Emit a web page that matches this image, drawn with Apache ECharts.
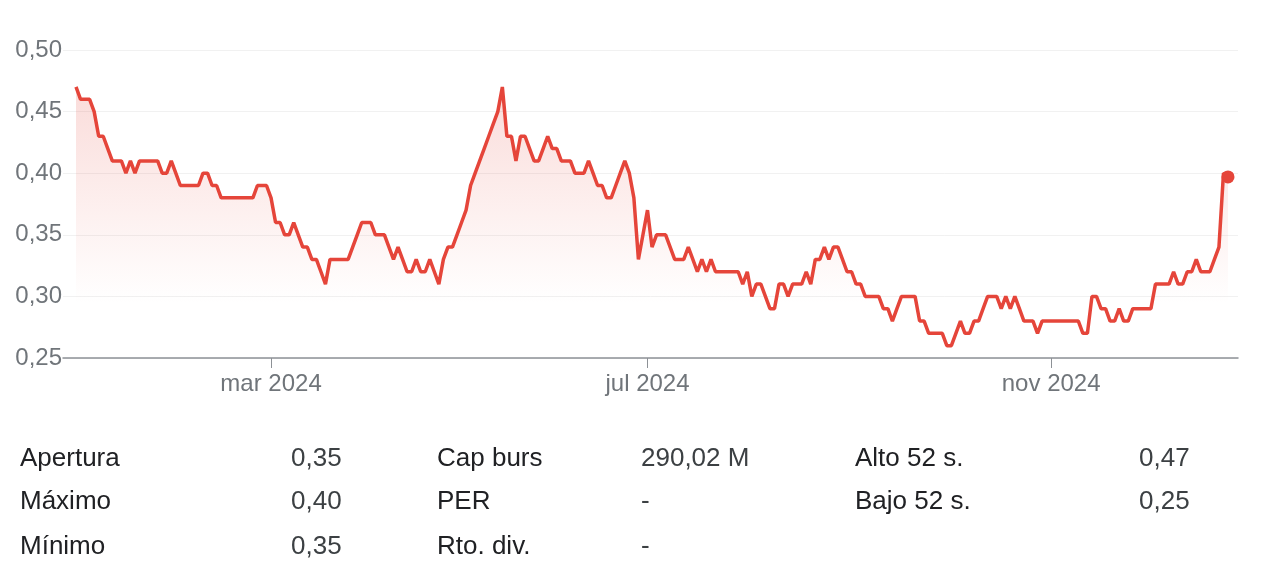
<!DOCTYPE html>
<html><head><meta charset="utf-8">
<script src="https://cdn.jsdelivr.net/npm/echarts@6/dist/echarts.min.js"></script>
<style>html,body{margin:0;padding:0;background:#fff}#c{width:1270px;height:583px}</style>
</head><body><div id="c"></div>
<script>
// Daily closing prices (EUR), one per trading day from 2 Jan 2024
const closePrices = [
  0.47,0.46,0.46,0.46,0.45,0.43,0.43,0.42,0.41,0.41,
  0.41,0.40,0.41,0.40,0.41,0.41,0.41,0.41,0.41,0.40,
  0.40,0.41,0.40,0.39,0.39,0.39,0.39,0.39,0.40,0.40,
  0.39,0.39,0.38,0.38,0.38,0.38,0.38,0.38,0.38,0.38,
  0.39,0.39,0.39,0.38,0.36,0.36,0.35,0.35,0.36,0.35,
  0.34,0.34,0.33,0.33,0.32,0.31,0.33,0.33,0.33,0.33,
  0.33,0.34,0.35,0.36,0.36,0.36,0.35,0.35,0.35,0.34,
  0.33,0.34,0.33,0.32,0.32,0.33,0.32,0.32,0.33,0.32,
  0.31,0.33,0.34,0.34,0.35,0.36,0.37,0.39,0.40,0.41,
  0.42,0.43,0.44,0.45,0.47,0.43,0.43,0.41,0.43,0.43,
  0.42,0.41,0.41,0.42,0.43,0.42,0.42,0.41,0.41,0.41,
  0.40,0.40,0.40,0.41,0.40,0.39,0.39,0.38,0.38,0.39,
  0.40,0.41,0.40,0.38,0.33,0.35,0.37,0.34,0.35,0.35,
  0.35,0.34,0.33,0.33,0.33,0.34,0.33,0.32,0.33,0.32,
  0.33,0.32,0.32,0.32,0.32,0.32,0.32,0.31,0.32,0.30,
  0.31,0.31,0.30,0.29,0.29,0.31,0.31,0.30,0.31,0.31,
  0.31,0.32,0.31,0.33,0.33,0.34,0.33,0.34,0.34,0.33,
  0.32,0.32,0.31,0.31,0.30,0.30,0.30,0.30,0.29,0.29,
  0.28,0.29,0.30,0.30,0.30,0.30,0.28,0.28,0.27,0.27,
  0.27,0.27,0.26,0.26,0.27,0.28,0.27,0.27,0.28,0.28,
  0.29,0.30,0.30,0.30,0.29,0.30,0.29,0.30,0.29,0.28,
  0.28,0.28,0.27,0.28,0.28,0.28,0.28,0.28,0.28,0.28,
  0.28,0.28,0.27,0.27,0.30,0.30,0.29,0.29,0.28,0.28,
  0.29,0.28,0.28,0.29,0.29,0.29,0.29,0.29,0.31,0.31,
  0.31,0.31,0.32,0.31,0.31,0.32,0.32,0.33,0.32,0.32,
  0.32,0.33,0.34,0.40,0.397
];
const firstTradingDay = [2024, 0, 2];
const marketHolidays = ['2024-01-01','2024-03-29','2024-04-01','2024-05-01','2024-12-25','2024-12-26'];
const monthNames = ['ene','feb','mar','abr','may','jun','jul','ago','sept','oct','nov','dic'];
const labeledMonths = [2, 6, 10];
const statLabels = [['Apertura','Máximo','Mínimo'],['Cap burs','PER','Rto. div.'],['Alto 52 s.','Bajo 52 s.']];
const statValues = [['0,35','0,40','0,35'],['290,02 M','-','-'],['0,47','0,25']];

// trading-day calendar
const dates = [];
let d = new Date(Date.UTC(firstTradingDay[0], firstTradingDay[1], firstTradingDay[2]));
while (dates.length < closePrices.length) {
  const iso = d.toISOString().slice(0,10);
  const wd = d.getUTCDay();
  if (wd !== 0 && wd !== 6 && marketHolidays.indexOf(iso) < 0) dates.push(new Date(d.getTime()));
  d = new Date(d.getTime() + 86400000);
}
const tickIdx = [];
for (let i = 1; i < dates.length; i++) {
  const m = dates[i].getUTCMonth();
  if (m !== dates[i-1].getUTCMonth() && labeledMonths.indexOf(m) >= 0) tickIdx.push(i);
}
const lineData = closePrices.map((v, i) => [i, v]);
const lastIdx = closePrices.length - 1;

const RED = '#e5453a';
const FONT = '"Liberation Sans", Arial, sans-serif';

const graphics = [];
const colLabelX = [20, 437, 855];
const colValueX = [291, 641, 1139];
const rowY = [457, 500, 545];
statLabels.forEach((col, c) => col.forEach((t, r) => {
  graphics.push({type:'text', left: colLabelX[c], top: rowY[r] - 11,
    style:{text:t, fill:'#202124', font:'26px ' + FONT}});
  graphics.push({type:'text', left: colValueX[c], top: rowY[r] - 11,
    style:{text:statValues[c][r], fill:'#3c4043', font:'26px ' + FONT}});
}));

const chart = echarts.init(document.getElementById('c'), null, {renderer:'canvas'});
chart.setOption({
  animation: false,
  backgroundColor: '#fff',
  grid: {left: 63, right: 32, top: 50, bottom: 225, containLabel: false},
  xAxis: {
    type: 'value', min: -2.87, max: 256.2,
    splitLine: {show: false},
    axisLine: {show: true, lineStyle: {color: '#8d9196', width: 1.5}},
    axisTick: {show: true, customValues: tickIdx, length: 10, lineStyle: {color: '#8d9196', width: 1}},
    axisLabel: {customValues: tickIdx, margin: 14, color: '#70757a', fontSize: 24, fontFamily: FONT,
      formatter: v => { const dt = dates[Math.round(v)]; return dt ? monthNames[dt.getUTCMonth()] + ' ' + dt.getUTCFullYear() : ''; }}
  },
  yAxis: {
    type: 'value', min: 0.25, max: 0.50, interval: 0.05,
    axisLine: {show: false}, axisTick: {show: false},
    splitLine: {lineStyle: {color: '#f1f1f1', width: 1}},
    axisLabel: {margin: 1, color: '#70757a', fontSize: 24, fontFamily: FONT,
      formatter: v => v.toFixed(2).replace('.', ',')}
  },
  series: [
    {type: 'line', data: lineData, showSymbol: false, symbol: 'none',
      lineStyle: {color: RED, width: 3.5},
      areaStyle: {color: new echarts.graphic.LinearGradient(0, 0, 0, 1, [
        {offset: 0, color: 'rgba(229,69,58,0.27)'},
        {offset: 0.8, color: 'rgba(229,69,58,0)'}])},
      z: 3},
    {type: 'scatter', data: [[lastIdx, closePrices[lastIdx]]], symbolSize: 13,
      itemStyle: {color: RED, opacity: 1}, z: 4}
  ],
  graphic: graphics
});
</script></body></html>
